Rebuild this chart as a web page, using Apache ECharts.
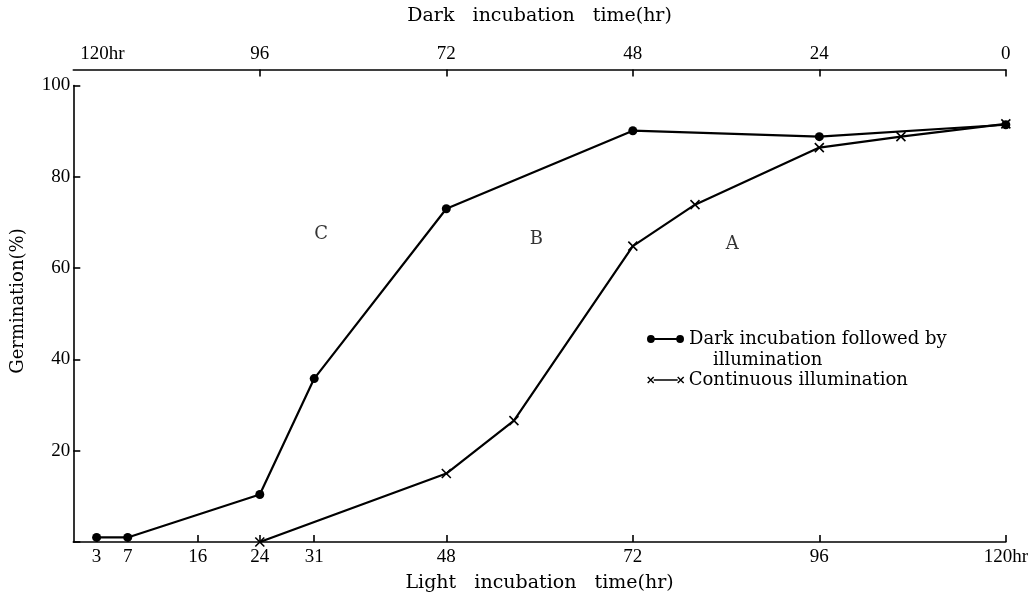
<!DOCTYPE html>
<html><head><meta charset="utf-8">
<script src="https://cdn.jsdelivr.net/npm/echarts@6/dist/echarts.min.js"></script>
<style>html,body{margin:0;padding:0;background:#fff}#c{width:1031px;height:598px}</style>
</head><body><div id="c"></div>
<script>
// Light incubation time (hr) and germination (%)
const darkThenLightX = [3, 7, 24, 31, 48, 72, 96, 120];
const darkThenLightY = [1, 1, 10.4, 35.8, 73, 90.1, 88.8, 91.4];
const continuousX = [24, 48, 56.7, 72, 80, 96, 106.5, 120];
const continuousY = [0, 15, 26.6, 64.8, 73.9, 86.4, 88.8, 91.6];
const lightTicks = [3, 7, 16, 24, 31, 48, 72, 96, 120];
const darkTicks = [0, 24, 48, 72, 96, 120];
const darkTickMarks = [0, 24, 48, 72, 96];
const yTicks = [20, 40, 60, 80, 100];
const regionLabels = ['C', 'B', 'A'];
const regionX = [31.9, 59.6, 84.8];
const regionY = [67.3, 66.2, 65.1];
const seriesNames = ['Dark incubation followed by illumination', 'Continuous illumination'];

const SERIF = 'Liberation Serif';
const WIDE = 'DejaVu Serif';
const zip = (xs, ys) => xs.map((x, i) => [x, ys[i]]);

const chart = echarts.init(document.getElementById('c'), null, {renderer: 'canvas'});
const dotIcon = 'path://M0,4A4,4 0 1 1 8,4A4,4 0 1 1 0,4ZM7,3.1L31,3.1L31,4.9L7,4.9ZM30,4A4,4 0 1 1 38,4A4,4 0 1 1 30,4Z';
const crossIcon = 'path://M0,1L6,7M0,7L6,1M6,4L30,4M30,1L36,7M30,7L36,1';

chart.setOption({
  animation: false,
  backgroundColor: '#fff',
  grid: {left: 73.3, right: 25, top: 85.5, bottom: 55, containLabel: false},
  xAxis: [{
    type: 'value', position: 'bottom', min: 0, max: 120,
    name: 'Light   incubation   time(hr)', nameLocation: 'middle', nameGap: 32,
    nameTextStyle: {fontFamily: WIDE, fontSize: 19, color: '#000'},
    axisLine: {lineStyle: {color: '#000', width: 1.6}},
    axisTick: {inside: true, length: 7, lineStyle: {color: '#000', width: 1.6}, customValues: lightTicks},
    axisLabel: {customValues: lightTicks, margin: 6, fontFamily: SERIF, fontSize: 19, color: '#000',
      formatter: v => v === 120 ? '120hr' : String(v)},
    splitLine: {show: false}
  }, {
    type: 'value', position: 'top', min: 0, max: 120, inverse: true, offset: 16,
    name: 'Dark   incubation   time(hr)', nameLocation: 'middle', nameGap: 44,
    nameTextStyle: {fontFamily: WIDE, fontSize: 19, color: '#000'},
    axisLine: {lineStyle: {color: '#000', width: 1.6}},
    axisTick: {inside: true, length: 7, lineStyle: {color: '#000', width: 1.6}, customValues: darkTickMarks},
    axisLabel: {customValues: darkTicks, margin: 6, fontFamily: SERIF, fontSize: 19, color: '#000',
      formatter: v => v === 120 ? '{p|120hr}' : String(v),
      rich: {p: {fontFamily: SERIF, fontSize: 19, color: '#000', padding: [0, 0, 0, 58]}}},
    splitLine: {show: false}
  }],
  yAxis: {
    type: 'value', min: 0, max: 100, interval: 20,
    axisLine: {show: true, lineStyle: {color: '#000', width: 1.6}},
    axisTick: {show: true, inside: true, length: 7, lineStyle: {color: '#000', width: 1.6}},
    axisLabel: {margin: 3, fontFamily: SERIF, fontSize: 19, color: '#000',
      formatter: v => yTicks.indexOf(v) >= 0 ? String(v) : ''},
    splitLine: {show: false}
  },
  legend: [{
    data: [{name: seriesNames[0], icon: dotIcon}],
    left: 647, top: 330, padding: 0, itemWidth: 37, itemHeight: 8, selectedMode: false,
    formatter: () => 'Dark incubation followed by',
    textStyle: {fontFamily: WIDE, fontSize: 18, color: '#000'}
  }, {
    data: [{name: seriesNames[1], icon: crossIcon, itemStyle: {borderWidth: 1.4}}],
    left: 647, top: 371, padding: 0, itemWidth: 36, itemHeight: 8, selectedMode: false,
    textStyle: {fontFamily: WIDE, fontSize: 18, color: '#000'}
  }],
  graphic: [
    {type: 'text', x: 713, y: 360, style: {text: 'illumination', font: '18px "DejaVu Serif"', fill: '#000', align: 'left', verticalAlign: 'middle'}},
    {type: 'text', x: 18, y: 301, rotation: Math.PI / 2, style: {text: 'Germination(%)', font: '18px "DejaVu Serif"', fill: '#000', align: 'center', verticalAlign: 'middle'}}
  ],
  series: [{
    name: seriesNames[0], type: 'line', xAxisIndex: 0, data: zip(darkThenLightX, darkThenLightY),
    symbol: 'circle', symbolSize: 9, itemStyle: {color: '#000'},
    lineStyle: {color: '#000', width: 2.2}, z: 3
  }, {
    name: seriesNames[1], type: 'line', xAxisIndex: 0, data: zip(continuousX, continuousY),
    symbol: 'path://M0,0L10,10M10,0L0,10', symbolSize: 9,
    itemStyle: {color: '#000', borderColor: '#000', borderWidth: 1.6},
    lineStyle: {color: '#000', width: 2.2}, z: 2
  }, {
    type: 'scatter', xAxisIndex: 0, silent: true,
    data: regionLabels.map((t, i) => [regionX[i], regionY[i], t]),
    symbolSize: 1, itemStyle: {color: 'rgba(0,0,0,0)'},
    label: {show: true, position: 'inside', formatter: p => p.data[2], fontFamily: WIDE, fontSize: 18, color: '#000'}
  }]
});
</script></body></html>
